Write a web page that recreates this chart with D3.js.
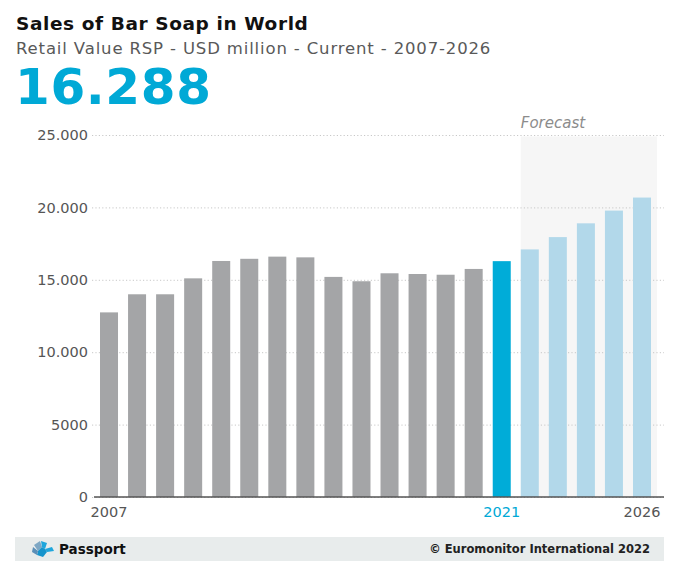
<!DOCTYPE html>
<html>
<head>
<meta charset="utf-8">
<script src="https://cdn.jsdelivr.net/npm/d3@7"></script>
<style>
  html, body { margin: 0; padding: 0; background: #fff; }
  svg { display: block; }
  text { font-family: "DejaVu Sans", Verdana, sans-serif; }
</style>
</head>
<body>
<svg id="chart" width="680" height="578"></svg>
<script>
// ---- data ----
const years = [2007, 2008, 2009, 2010, 2011, 2012, 2013, 2014, 2015, 2016,
               2017, 2018, 2019, 2020, 2021, 2022, 2023, 2024, 2025, 2026];
const values = [12750, 14000, 14000, 15100, 16300, 16450, 16600, 16550, 15200, 14900,
                15450, 15400, 15350, 15750, 16288, 17100, 17950, 18900, 19780, 20680];
const currentYear = 2021;
const forecastYears = [2022, 2023, 2024, 2025, 2026];
const yTicks = [0, 5000, 10000, 15000, 20000, 25000];
const yTickLabels = ["0", "5000", "10.000", "15.000", "20.000", "25.000"];
const xLabelYears = [2007, 2021, 2026];
const titleText = "Sales of Bar Soap in World";
const subtitleText = "Retail Value RSP - USD million - Current - 2007-2026";
const headlineValue = "16.288";
const forecastLabel = "Forecast";
const brandText = "Passport";
const copyrightText = "\u00A9 Euromonitor International 2022";

// ---- layout ----
const svg = d3.select("#chart");
const plot = { left: 94, right: 657, top: 135, bottom: 497 };

const x = d3.scaleBand()
  .domain(years)
  .range([plot.left, plot.right])
  .paddingInner(0.358)
  .paddingOuter(0.214);

const y = d3.scaleLinear()
  .domain([0, 25000])
  .range([plot.bottom, plot.top]);

// titles
svg.append("text").attr("x", 16).attr("y", 30)
  .attr("font-size", 18.5).attr("font-weight", "bold").attr("fill", "#111")
  .attr("letter-spacing", 0.6)
  .text(titleText);
svg.append("text").attr("x", 16).attr("y", 54)
  .attr("font-size", 16.5).attr("fill", "#595959")
  .attr("letter-spacing", 0.85)
  .text(subtitleText);
svg.append("text").attr("x", 15).attr("y", 104)
  .attr("font-size", 50).attr("font-weight", "bold").attr("fill", "#00a9d6")
  .attr("letter-spacing", 0.6)
  .text(headlineValue);

// forecast background
const fx0 = x(forecastYears[0]);
const fx1 = x.range()[1];
svg.append("rect")
  .attr("x", fx0).attr("y", y(25000) + 1.5)
  .attr("width", fx1 - fx0).attr("height", y(0) - y(25000) - 1.5)
  .attr("fill", "#f6f6f6");
svg.append("text")
  .attr("x", fx0).attr("y", 128)
  .attr("font-size", 15).attr("font-style", "italic").attr("fill", "#8c8c8c")
  .text(forecastLabel);

// gridlines + y labels via axis
const yAxis = d3.axisLeft(y)
  .tickValues(yTicks)
  .tickSize(-(664 - 92))
  .tickFormat((d, i) => yTickLabels[i]);
const gy = svg.append("g")
  .attr("transform", `translate(92,0)`)
  .call(yAxis);
gy.select(".domain").remove();
gy.selectAll(".tick line")
  .attr("stroke", "#c8c8c8")
  .attr("stroke-dasharray", "1.2,2.2")
  .attr("stroke-width", 1);
gy.selectAll(".tick text")
  .attr("x", -4)
  .attr("font-size", 14.5)
  .attr("fill", "#555")
  .attr("font-family", "DejaVu Sans, sans-serif");

// bars
svg.append("g").selectAll("rect")
  .data(years.map((yr, i) => ({ year: yr, value: values[i] })))
  .join("rect")
  .attr("x", d => x(d.year))
  .attr("width", x.bandwidth())
  .attr("y", d => y(d.value))
  .attr("height", d => y(0) - y(d.value))
  .attr("fill", d => d.year === currentYear ? "#00acd8"
                    : (forecastYears.includes(d.year) ? "#b2d8ea" : "#a4a5a7"));

// baseline axis
svg.append("line")
  .attr("x1", 94).attr("x2", 664)
  .attr("y1", y(0)).attr("y2", y(0))
  .attr("stroke", "#555").attr("stroke-width", 1.5);

// x labels via axis
const xAxis = d3.axisBottom(x).tickValues(xLabelYears).tickSize(0).tickPadding(0);
const gx = svg.append("g")
  .attr("transform", `translate(0,${y(0)})`)
  .call(xAxis);
gx.select(".domain").remove();
gx.selectAll(".tick text")
  .attr("dy", 0).attr("y", 20)
  .attr("font-size", 14.5)
  .attr("font-family", "DejaVu Sans, sans-serif")
  .attr("fill", d => d === currentYear ? "#00a9d6" : "#555");

// footer
svg.append("rect").attr("x", 15).attr("y", 537)
  .attr("width", 649).attr("height", 24).attr("fill", "#e8ecec");
// logo (simple stylised globe)
const logo = svg.append("g").attr("transform", "translate(42,549)");
logo.append("path").attr("d", "M-8,-4 L-2,-8 L0,-2 L-4,2 Z").attr("fill", "#7ea7c4");
logo.append("path").attr("d", "M-1,-8 L5,-6 L3,0 L0,-2 Z").attr("fill", "#1fa6dc");
logo.append("path").attr("d", "M3,0 L10,-2 L12,2 L5,3 Z").attr("fill", "#1fa6dc");
logo.append("path").attr("d", "M-4,2 L0,-2 L3,0 L5,3 L1,8 L-5,6 Z").attr("fill", "#1694cc");
logo.append("path").attr("d", "M-9,-2 L-4,2 L-5,6 L-10,3 Z").attr("fill", "#5b8fb8");
svg.append("text").attr("x", 59).attr("y", 554)
  .attr("font-family", "Liberation Sans, Arial, sans-serif")
  .attr("font-size", 13.5).attr("font-weight", "bold").attr("fill", "#111")
  .text(brandText);
svg.append("text").attr("x", 650).attr("y", 553)
  .attr("text-anchor", "end")
  .attr("font-size", 11.5).attr("font-weight", "bold").attr("fill", "#222")
  .text(copyrightText);
</script>
</body>
</html>
